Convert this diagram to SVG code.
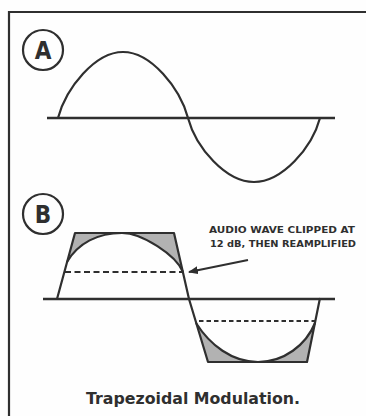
<svg xmlns="http://www.w3.org/2000/svg" width="366" height="416" viewBox="0 0 366 416">
<style>
.ln{fill:none;stroke:#2f2f2f;stroke-width:2.2;stroke-linejoin:round;stroke-linecap:butt}
.base{fill:none;stroke:#2f2f2f;stroke-width:2.4}
.dash{fill:none;stroke:#2f2f2f;stroke-width:2}
.gray{fill:#b2b2b2;stroke:none}
.lbl{font-family:"DejaVu Sans Condensed","DejaVu Sans","Liberation Sans",sans-serif;font-weight:bold;fill:#2f2f2f}
.cap{font-family:"DejaVu Sans","Liberation Sans",sans-serif;font-weight:bold;fill:#2f2f2f}
</style>
<defs>
<marker id="ah" markerWidth="10" markerHeight="8" refX="9" refY="4" orient="auto" markerUnits="userSpaceOnUse">
<path d="M0,0 L10,4 L0,8 Z" fill="#2f2f2f"/>
</marker>
</defs>
<rect width="366" height="416" fill="#fefefe"/>
<g id="frame">
<path class="ln" d="M9,12 H366 M9,11 V416" stroke-width="2"/>
</g>
<g id="panelA">
<circle class="ln" cx="43" cy="50" r="20"/>
<text class="lbl" x="43" y="59" font-size="24" text-anchor="middle">A</text>
<path class="base" d="M47,118 H335"/>
<path class="ln" d="M58,118 C66,88 95,52 123,52 C151,52 180,88 188,118 C196,148 226,182 254,182 C282,182 312,148 320,118"/>
</g>
<g id="panelB">
<circle class="ln" cx="43" cy="214" r="20"/>
<text class="lbl" x="43" y="223" font-size="24" text-anchor="middle">B</text>
<path class="gray" d="M75,233 L122,233 C98,233 78,243 67,262 Z"/>
<path class="gray" d="M122,233 L174,233 L183,272 C176,255 142,233 122,233 Z"/>
<path class="gray" d="M196,323 L208,362 L258,362 C232,362 210,345 196,323 Z"/>
<path class="gray" d="M258,362 L307,362 L315,323 C306,345 284,362 258,362 Z"/>
<path class="base" d="M43,299 H335"/>
<path class="ln" d="M57,299 L75,233 L174,233 L189,299 L208,362 L307,362 L320,298"/>
<path class="ln" d="M67,262 C78,243 98,233 122,233 C142,233 176,255 183,272"/>
<path class="ln" d="M196,323 C210,345 232,362 258,362 C284,362 306,345 315,323"/>
<path class="dash" d="M65,272 H183" stroke-dasharray="6 3.5"/>
<path class="dash" d="M199,321 H315" stroke-dasharray="4.5 3"/>
</g>
<g id="connectors">
<path class="ln" d="M248,260 L189,272" stroke-width="2.5" marker-end="url(#ah)"/>
</g>
<g id="note">
<text class="cap" x="209" y="233" font-size="9.3" textLength="146" lengthAdjust="spacingAndGlyphs">AUDIO WAVE CLIPPED AT</text>
<text class="cap" x="210" y="247" font-size="9.3" textLength="146" lengthAdjust="spacingAndGlyphs">12 dB, THEN REAMPLIFIED</text>
</g>
<g id="title">
<text class="cap" x="86" y="404" font-size="15" textLength="214" lengthAdjust="spacingAndGlyphs">Trapezoidal Modulation.</text>
</g>
</svg>
